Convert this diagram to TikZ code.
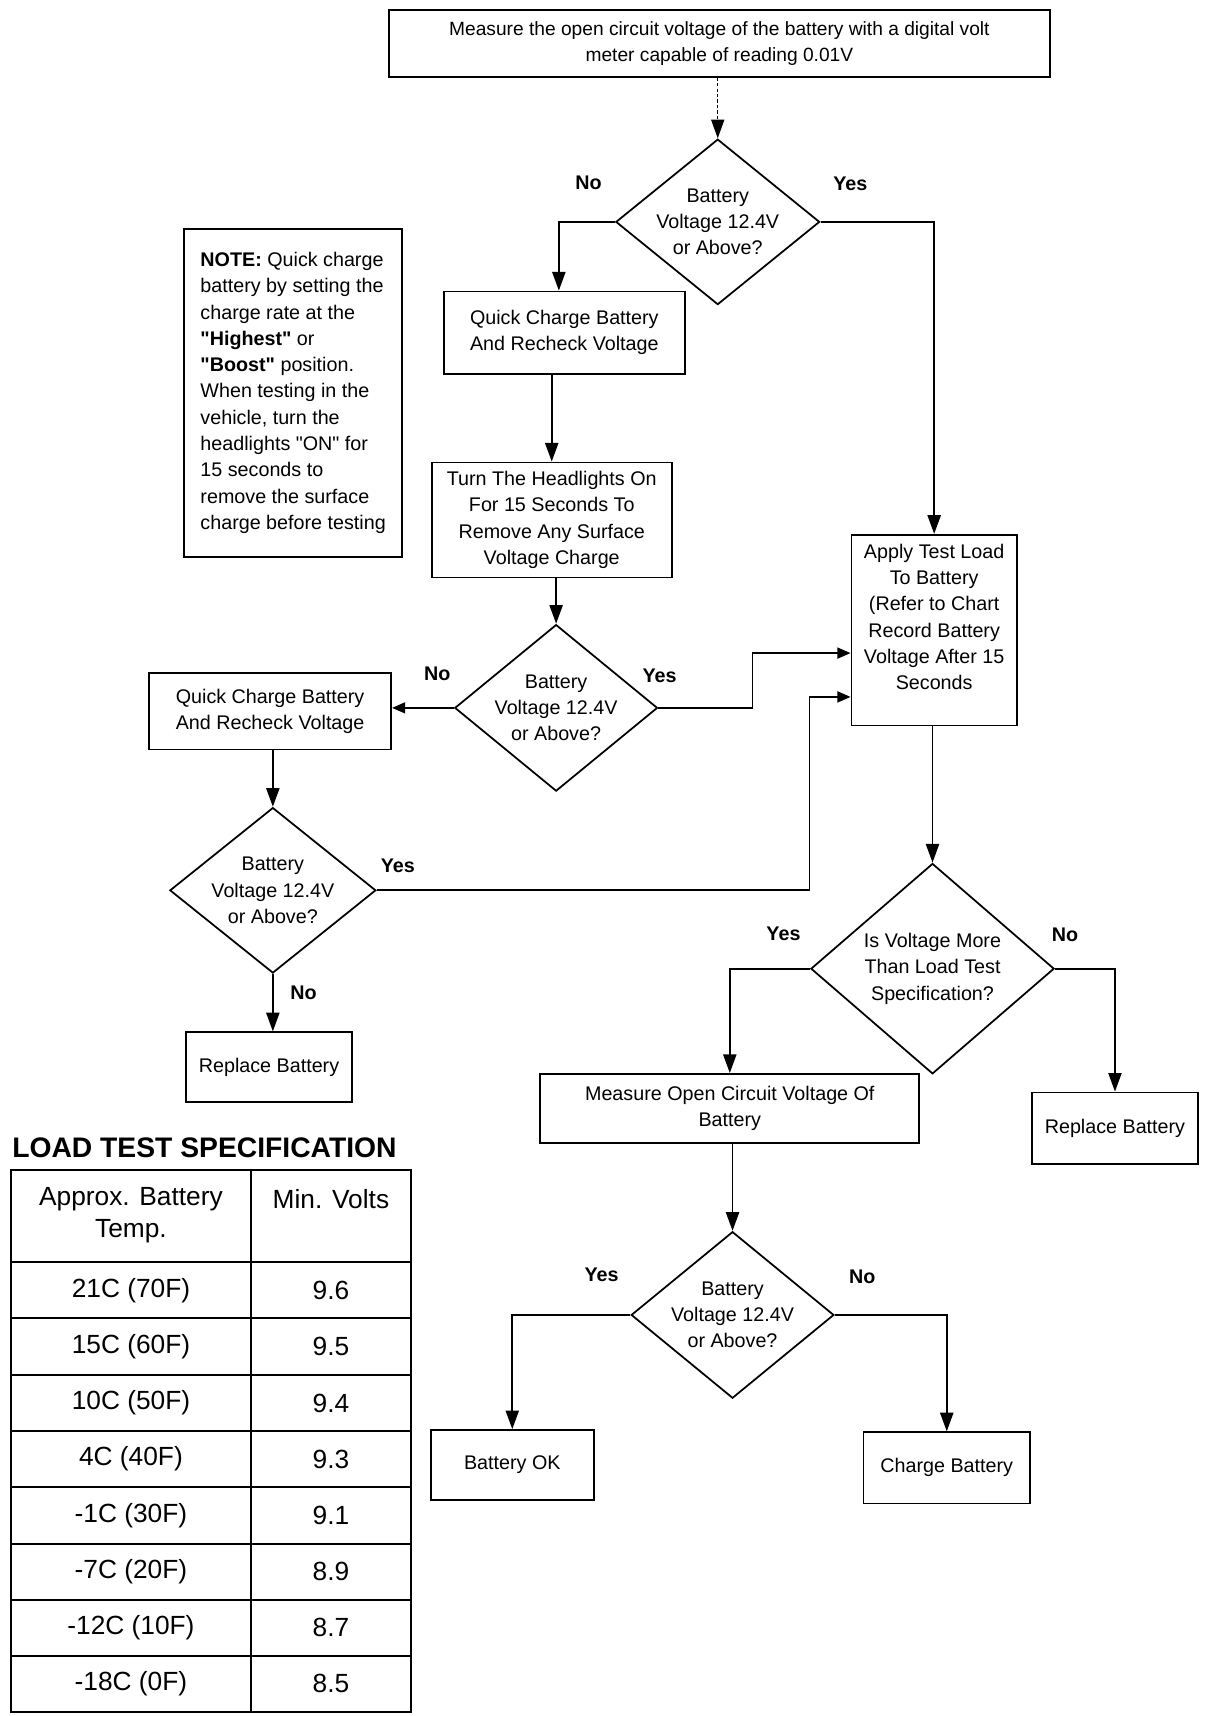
\documentclass[tikz,border=0pt]{standalone}
\usepackage{fontspec}
\setmainfont{Liberation Sans}[Ligatures=TeXOff]
\usetikzlibrary{arrows.meta,shapes.geometric}
\begin{document}
\begin{tikzpicture}[x=1pt,y=-1pt,
  box/.style={draw, line width=1.6pt, inner sep=0pt, align=center, font=\fontsize{18}{24}\selectfont},
  dia/.style={draw, diamond, line width=1.6pt, inner sep=0pt},
  txt/.style={inner sep=0pt, align=center, font=\fontsize{18}{24}\selectfont},
  lab/.style={inner sep=0pt, font=\fontsize{18}{24}\selectfont\bfseries},
  arr/.style={line width=1.6pt, -{Triangle[length=17pt,width=12pt]}},
  arrs/.style={line width=1.6pt, -{Triangle[length=12pt,width=10pt]}},
  cell/.style={inner sep=0pt, align=center, font=\fontsize{24}{30}\selectfont},
]
\fill[white] (0,0) rectangle (1110,1566);
\useasboundingbox (0,0) rectangle (1110,1566);

% top box
\node[box, minimum width=603, minimum height=61, font=\fontsize{17.5}{24}\selectfont] (top) at (656.5,39.5)
  {Measure the open circuit voltage of the battery with a digital volt\\meter capable of reading 0.01V};

% diamond 1
\node[dia, minimum width=186, minimum height=151] (d1) at (655,202.5) {};
\node[txt] (d1t) at (d1) {Battery\\Voltage 12.4V\\or Above?};
\node[lab] (d1no) at (537,167) {No};
\node[lab] (d1yes) at (776,168) {Yes};

% note
\node[draw, line width=1.6pt, inner sep=0pt, align=left, minimum width=199, minimum height=299,
  font=\fontsize{18}{24}\selectfont] (note) at (267.5,358.5)
  {\textbf{NOTE:} Quick charge\\battery by setting the\\charge rate at the\\\textbf{"Highest"} or\\\textbf{"Boost"} position.\\When testing in the\\vehicle, turn the\\headlights "ON" for\\15 seconds to\\remove the surface\\charge before testing};

% quick charge 1
\node[box, minimum width=220, minimum height=75] (q1) at (515,303.5) {Quick Charge Battery\\And Recheck Voltage};
% turn headlights
\node[box, minimum width=219, minimum height=105] (t) at (503.5,474.5)
  {Turn The Headlights On\\For 15 Seconds To\\Remove Any Surface\\Voltage Charge};

% diamond 2
\node[dia, minimum width=185, minimum height=152] (d2) at (507.5,646) {};
\node[txt] (d2t) at (d2) {Battery\\Voltage 12.4V\\or Above?};
\node[lab] (d2no) at (399,615) {No};
\node[lab] (d2yes) at (602,617) {Yes};

% quick charge 2
\node[box, minimum width=221, minimum height=70] (q2) at (246.5,649) {Quick Charge Battery\\And Recheck Voltage};

% diamond 3
\node[dia, minimum width=188, minimum height=151] (d3) at (249,812.5) {};
\node[txt] (d3t) at (d3) {Battery\\Voltage 12.4V\\or Above?};
\node[lab] (d3yes) at (363,790) {Yes};
\node[lab] (d3no) at (277,906) {No};

% replace battery 1
\node[box, minimum width=151, minimum height=64] (r1) at (245.5,974) {Replace Battery};

% apply test load
\node[box, minimum width=151, minimum height=174] (a) at (852.5,575) {};
\node[txt] (at) at (852.5,563) {Apply Test Load\\To Battery\\(Refer to Chart\\Record Battery\\Voltage After 15\\Seconds};

% diamond 4
\node[dia, minimum width=222, minimum height=192] (d4) at (851,884) {};
\node[txt] (d4t) at (d4) {Is Voltage More\\Than Load Test\\Specification?};
\node[lab] (d4yes) at (715,852) {Yes};
\node[lab] (d4no) at (972,853) {No};

% replace battery 2
\node[box, minimum width=151, minimum height=65] (r2) at (1017.5,1029.5) {Replace Battery};

% measure open circuit
\node[box, minimum width=346, minimum height=63] (m) at (666,1011.5) {Measure Open Circuit Voltage Of\\Battery};

% diamond 5
\node[dia, minimum width=185, minimum height=152] (d5) at (668.5,1200) {};
\node[txt] (d5t) at (d5) {Battery\\Voltage 12.4V\\or Above?};
\node[lab] (d5yes) at (549,1163) {Yes};
\node[lab] (d5no) at (787,1165) {No};

% final boxes
\node[box, minimum width=149, minimum height=64] (ok) at (467.5,1337) {Battery OK};
\node[box, minimum width=152, minimum height=65] (cb) at (864,1339.5) {Charge Battery};

% connectors
\draw[line width=1pt, dash pattern=on 3pt off 2pt, -{Triangle[length=17pt,width=12pt]}] (top.south -| d1.north) -- (d1.north);
\draw[arr] (d1.west) -| ([xshift=-5pt]q1.north);
\draw[arr] (d1.east) -| (a.north);
\draw[arr] (q1.south -| t.north) -- (t.north);
\draw[arr] (t.south -| d2.north) -- (d2.north);
\draw[arrs] (d2.west) -- (d2.west -| q2.east);
\draw[arrs] (d2.east) -- ++(86,0) |- ([yshift=-21pt]a.west);
\draw[arr] (q2.south -| d3.north) -- (d3.north);
\draw[arrs] (d3.east) -- ++(395,0) |- ([yshift=-61pt]a.west);
\draw[arr] (d3.south) -- (d3.south |- r1.north);
\draw[arr] (a.south -| d4.north) -- (d4.north);
\draw[arr] (d4.west) -| (m.north);
\draw[arr] (d4.east) -| (r2.north);
\draw[arr] (m.south -| d5.north) -- (d5.north);
\draw[arr] (d5.west) -| (ok.north);
\draw[arr] (d5.east) -| (cb.north);

% table
\node[anchor=west, inner sep=0pt, font=\fontsize{25.8}{30}\selectfont\bfseries] (title) at (11,1047) {LOAD TEST SPECIFICATION};
\draw[line width=1.8pt] (10,1068) rectangle (375,1562);
\draw[line width=1.8pt] (229,1068) -- (229,1562);
\foreach \yy in {1152,1203,1255,1306,1357,1409,1460,1511}
  \draw[line width=1.8pt] (10,\yy) -- (375,\yy);
\node[cell] (h1) at (119.5,1109) {Approx. Battery\\Temp.};
\node[cell] (h2) at (302,1094) {Min. Volts};
\foreach \tt/\vv/\yy [count=\i] in {21C (70F)/9.6/1177.5, 15C (60F)/9.5/1229, 10C (50F)/9.4/1280.5, 4C (40F)/9.3/1331.5, -1C (30F)/9.1/1383, -7C (20F)/8.9/1434.5, -12C (10F)/8.7/1485.5, -18C (0F)/8.5/1536.5}{
  \node[cell] (tc\i) at (119.5,\yy) {\tt};
  \node[cell] (vc\i) at (302,\yy) {\vv};
}
\end{tikzpicture}
\end{document}
